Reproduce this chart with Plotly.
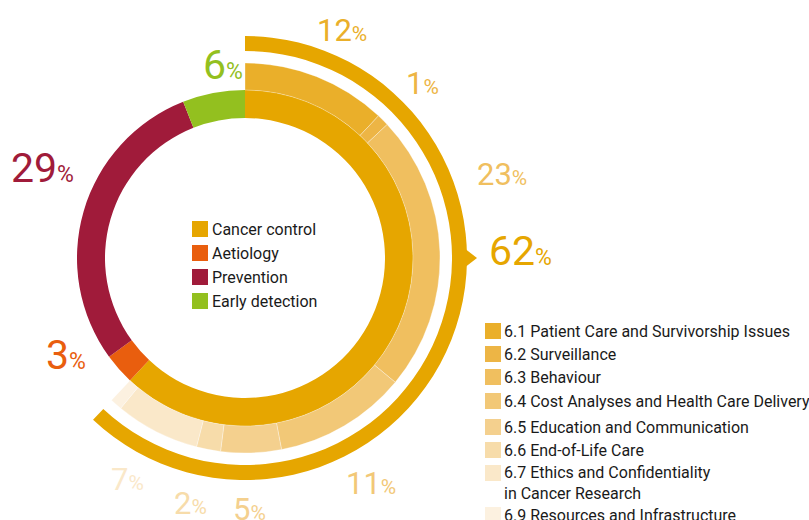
import math
import plotly.graph_objects as go

W, H = 809, 520

# Research categories (inner ring), share of total in %
main_labels = ["Cancer control", "Aetiology", "Prevention", "Early detection"]
main_values = [62, 3, 29, 6]
main_colors = ["#E6A600", "#E95E0E", "#A01B3A", "#93C01F"]

# Cancer control sub-categories (second ring), share of total in %
sub_labels = [
    "6.1 Patient Care and Survivorship Issues",
    "6.2 Surveillance",
    "6.3 Behaviour",
    "6.4 Cost Analyses and Health Care Delivery",
    "6.5 Education and Communication",
    "6.6 End-of-Life Care",
    "6.7 Ethics and Confidentiality<br>in Cancer Research",
    "6.9 Resources and Infrastructure",
]
sub_values = [12, 1, 23, 11, 5, 2, 7, 1]
sub_colors = ["#EAAF2A", "#EDB545", "#F0BF5F", "#F2C877",
              "#F4D08E", "#F7DCAA", "#FAE8C9", "#FCF1E0"]

# Value label placement around the rings (angle in degrees clockwise from top, radius in px)
main_label_theta = [88.5, 241.5, 294.0, 353.5]
main_label_r = [276, 204, 222, 194]
sub_label_theta = [23.0, 45.5, 72.0, 150.8, 178.9, 192.6, 208.0, None]
sub_label_r = [247, 249, 270, 258, 252, 252, 251, None]

# Ring geometry (px, polar radial axis is set up 1 unit = 1 px)
CX, CY, R_MAX = 245, 258, 240
INNER_BASE, INNER_W = 140, 28
SUB_BASE, SUB_W = 168, 27
ARC_BASE, ARC_W = 207, 15

FONT = "Roboto, 'Open Sans', sans-serif"


def segments(values):
    """Centre angle and angular width of each segment, clockwise from 12 o'clock."""
    thetas, widths, start = [], [], 0.0
    for v in values:
        w = v * 3.6
        thetas.append(start + w / 2)
        widths.append(w)
        start += w
    return thetas, widths


def polar_to_paper(theta, r):
    t = math.radians(theta)
    return (CX + r * math.sin(t)) / W, 1 - (CY - r * math.cos(t)) / H


fig = go.Figure()

m_theta, m_width = segments(main_values)
fig.add_trace(go.Barpolar(
    theta=m_theta, width=m_width,
    r=[INNER_W] * len(main_values), base=[INNER_BASE] * len(main_values),
    marker=dict(color=main_colors, line=dict(width=0)),
    hovertext=main_labels, hoverinfo="text", showlegend=False,
))

s_theta, s_width = segments(sub_values)
fig.add_trace(go.Barpolar(
    theta=s_theta, width=s_width,
    r=[SUB_W] * len(sub_values), base=[SUB_BASE] * len(sub_values),
    marker=dict(color=sub_colors, line=dict(width=0.6, color="rgba(255,255,255,0.55)")),
    hovertext=sub_labels, hoverinfo="text", showlegend=False,
))

# Bracket arc spanning the whole cancer control share
cc_span = main_values[0] * 3.6
fig.add_trace(go.Barpolar(
    theta=[cc_span / 2], width=[cc_span],
    r=[ARC_W], base=[ARC_BASE],
    marker=dict(color=main_colors[0], line=dict(width=0)),
    hoverinfo="skip", showlegend=False,
))
# Pointer on the bracket towards the 62% label
fig.add_trace(go.Scatterpolar(
    theta=[90], r=[221], mode="markers",
    marker=dict(symbol="triangle-right", size=22, color=main_colors[0], line=dict(width=0)),
    hoverinfo="skip", showlegend=False,
))

fig.update_layout(
    width=W, height=H,
    margin=dict(l=0, r=0, t=0, b=0),
    paper_bgcolor="white", plot_bgcolor="white",
    polar=dict(
        domain=dict(x=[(CX - R_MAX) / W, (CX + R_MAX) / W],
                    y=[(H - CY - R_MAX) / H, (H - CY + R_MAX) / H]),
        bgcolor="rgba(0,0,0,0)",
        radialaxis=dict(range=[0, R_MAX], visible=False, showgrid=False),
        angularaxis=dict(direction="clockwise", rotation=90, visible=False,
                         showgrid=False, thetaunit="degrees"),
    ),
    showlegend=False,
)

shapes, annotations = [], []


def pct_label(v, color, theta, r, big, small):
    x, y = polar_to_paper(theta, r)
    annotations.append(dict(
        xref="paper", yref="paper", x=x, y=y, xanchor="center", yanchor="middle",
        text=f"{v}<span style='font-size:{small}px'>%</span>", showarrow=False,
        font=dict(family=FONT, size=big, color=color),
    ))


for v, c, th, rr in zip(main_values, main_colors, main_label_theta, main_label_r):
    pct_label(v, c, th, rr, 41, 23)

for v, c, th, rr in zip(sub_values, sub_colors, sub_label_theta, sub_label_r):
    if th is not None:
        pct_label(v, c, th, rr, 31, 21)


# Legends drawn as swatch + label rows
def legend_rows(labels, colors, x_sw, x_txt, ys, size=16):
    for lab, col, y in zip(labels, colors, ys):
        shapes.append(dict(
            type="rect", xref="paper", yref="paper",
            x0=x_sw / W, x1=(x_sw + size) / W,
            y0=1 - (y + size / 2) / H, y1=1 - (y - size / 2) / H,
            fillcolor=col, line=dict(width=0), layer="above",
        ))
        shift = 9.5 if "<br>" in lab else 0
        annotations.append(dict(
            xref="paper", yref="paper", x=x_txt / W, y=1 - (y + shift) / H,
            text=lab, showarrow=False, xanchor="left", yanchor="middle",
            align="left", font=dict(family=FONT, size=16, color="#1A1A1A"),
        ))


legend_rows(main_labels, main_colors, 192, 210, [229, 253, 277, 301])
legend_rows(sub_labels, sub_colors, 485, 502, [331, 354, 377, 401, 427, 450, 473, 515])

fig.update_layout(shapes=shapes, annotations=annotations)

fig.write_html("out.html")
